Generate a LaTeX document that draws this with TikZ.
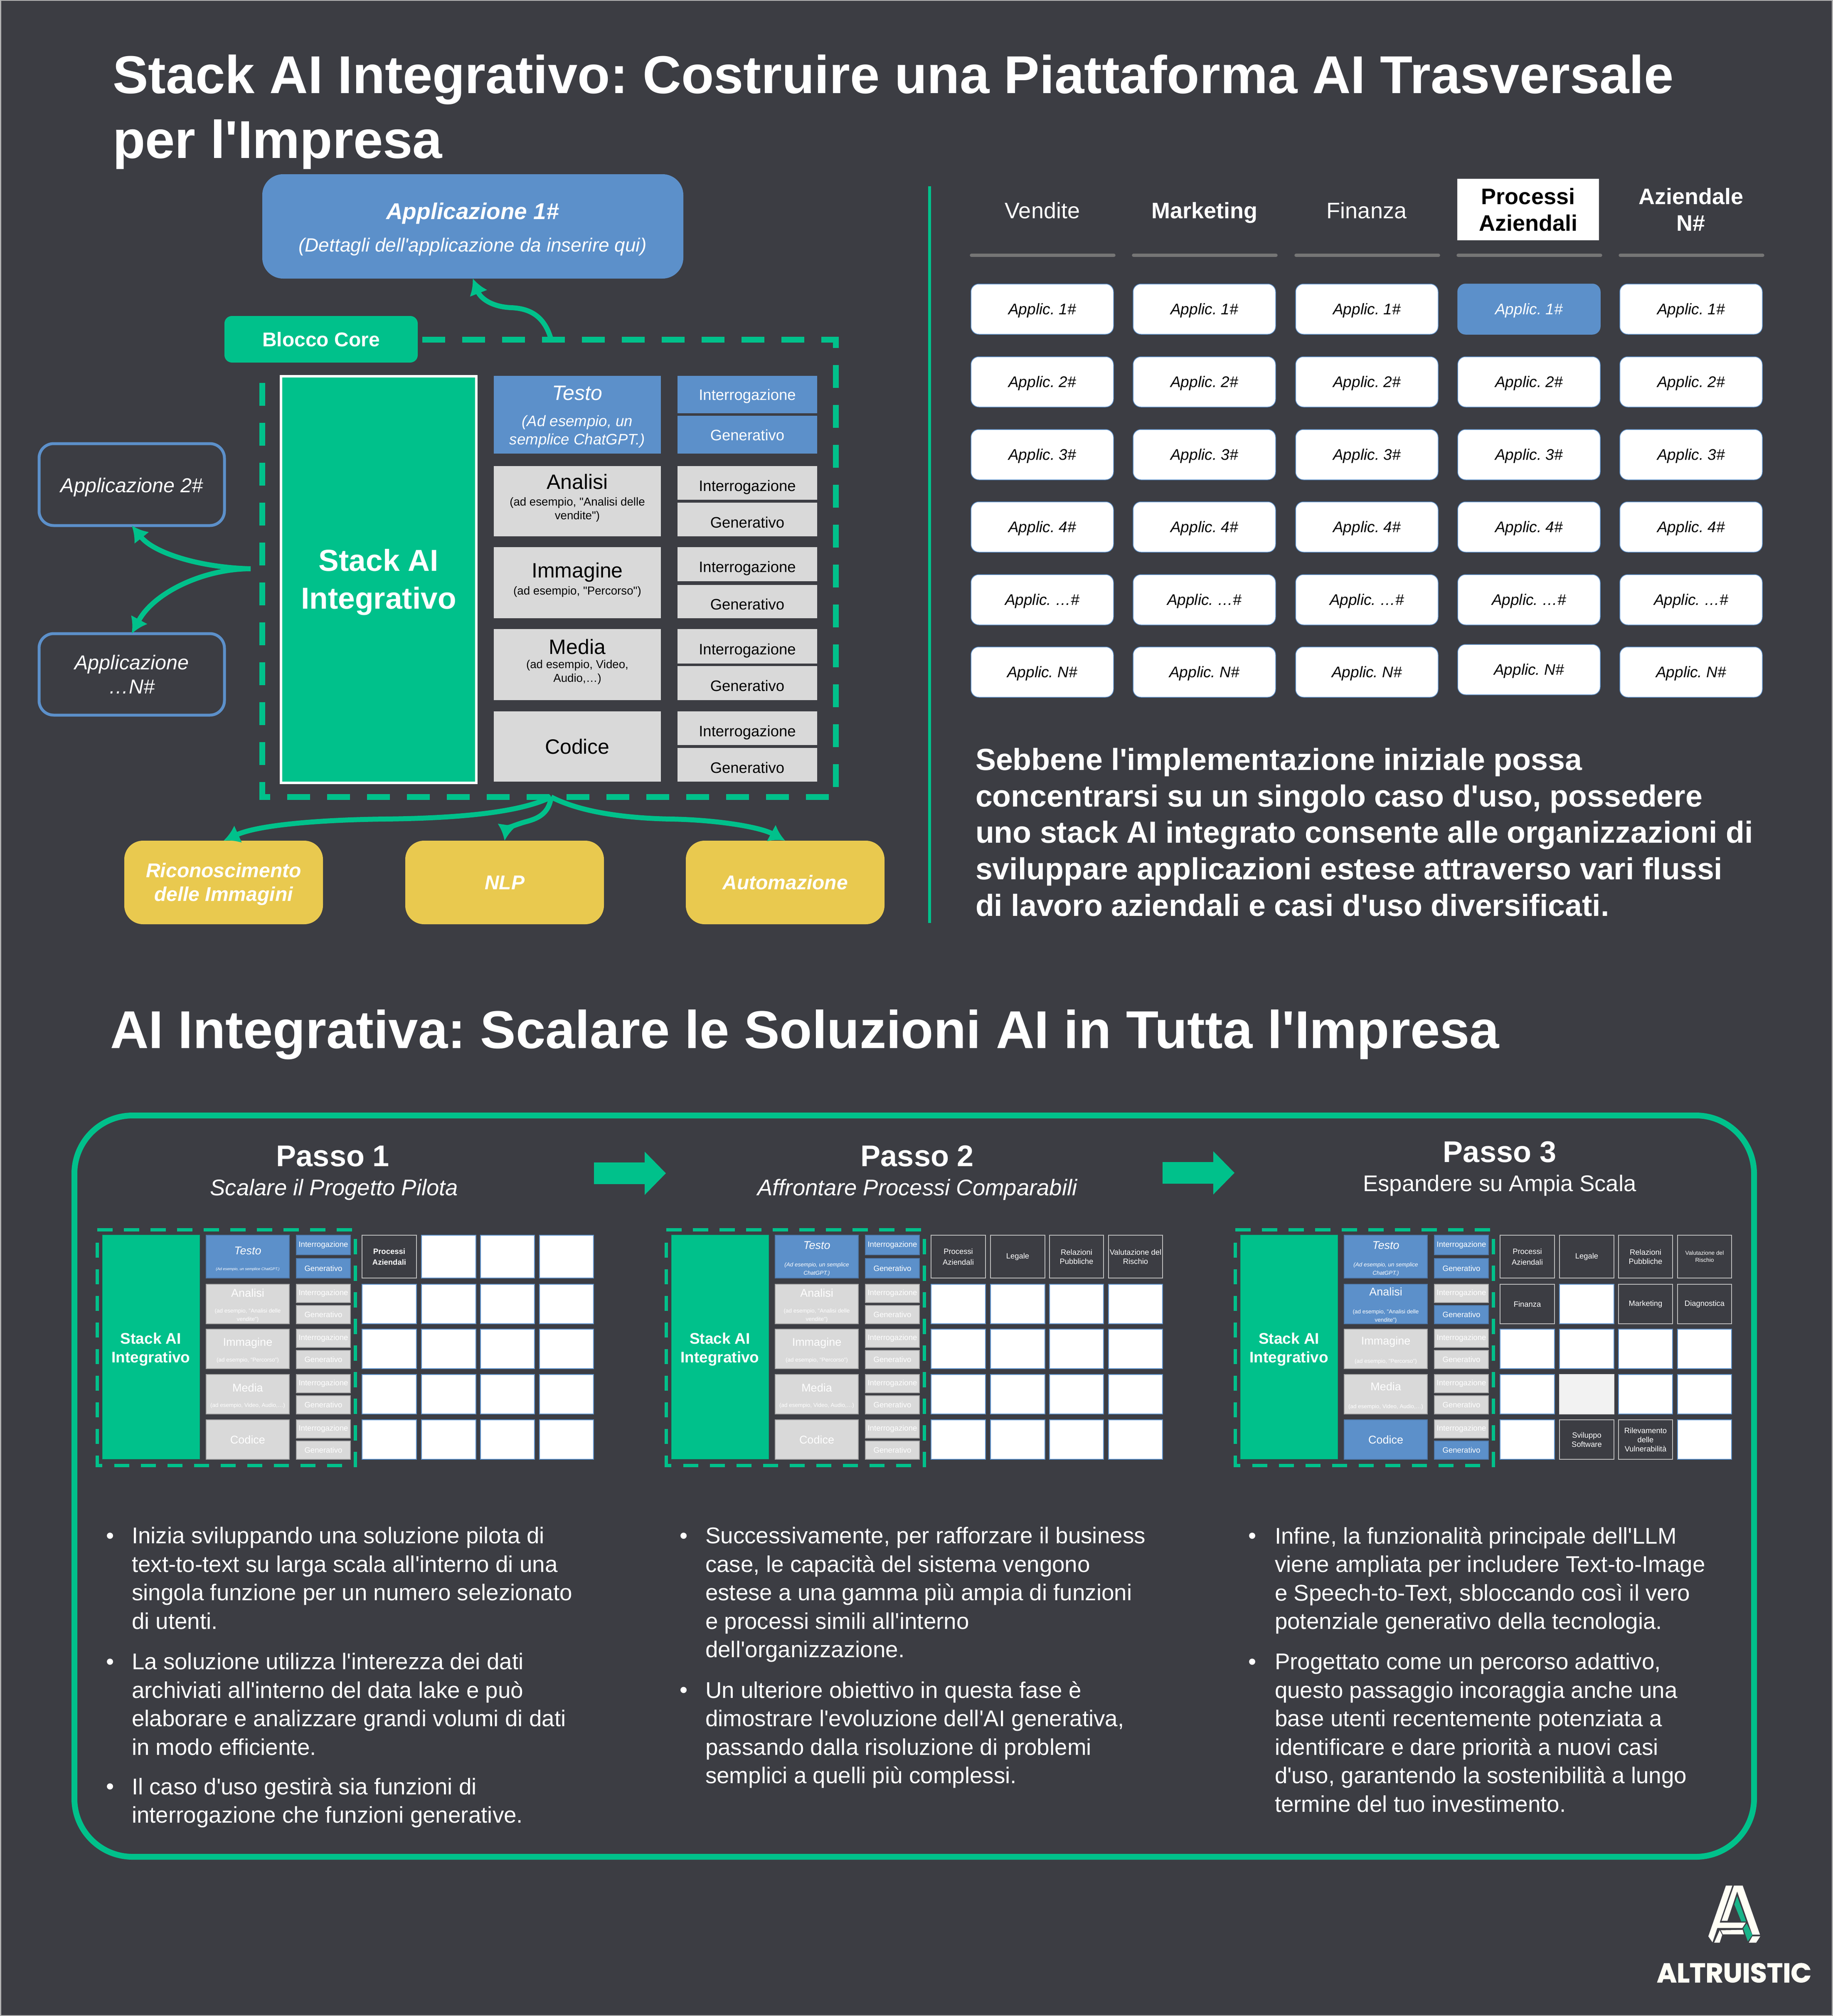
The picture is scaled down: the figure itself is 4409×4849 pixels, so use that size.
\documentclass[tikz,border=0pt]{standalone}
\usepackage{fontspec}
\setmainfont{Liberation Sans}[Ligatures=TeXOff]
\newfontfamily\logofont{Poppins}[BoldFeatures={FakeBold=1.5}]
\usetikzlibrary{arrows.meta}
\AtBeginDocument{\frenchspacing}
\definecolor{bgc}{HTML}{3C3D43}
\definecolor{grn}{HTML}{00C18B}
\definecolor{blu}{HTML}{5C90CA}
\definecolor{ylw}{HTML}{E9C94F}
\definecolor{gry}{HTML}{D9D9D9}
\definecolor{rulec}{HTML}{757575}
\newcommand\F[2]{\fontsize{#1}{#2}\selectfont}
\newcommand\mybox[7]{\pgfmathsetmacro\bxw{#4-#2}\pgfmathsetmacro\bxh{#5-#3}\pgfmathsetmacro\bxx{(#2+#4)/2}\pgfmathsetmacro\bxy{(#3+#5)/2}\node[#6,minimum width=\bxw pt,minimum height=\bxh pt] (#1) at (\bxx,\bxy) {#7};}
\newcommand\mylab[5]{\node[lab,#4] (#1) at (#2,#3) {#5};}
\tikzset{
 lab/.style={inner sep=0pt,outer sep=0pt,align=center,text=white},
 boxb/.style={rectangle,inner sep=0pt,outer sep=0pt,align=center},
 flow/.style={draw=grn,line width=12pt,-{Latex[length=38pt,width=46pt]}},
 dbig/.style={draw=grn,line width=14pt,dash pattern=on 55pt off 41pt},
 dmin/.style={draw=grn,line width=8.5pt,dash pattern=on 36.5pt off 27.5pt},
 stackbig/.style={boxb,fill=grn,draw=white,line width=6pt},
 catblue/.style={boxb,fill=blu},
 catgray/.style={boxb,fill=gry},
 igblue/.style={boxb,fill=blu,text=white,font={\F{36.5}{44}},text height=35pt,text depth=8pt},
 iggray/.style={boxb,fill=gry,text=black,font={\F{36.5}{44}},text height=47pt,text depth=8pt},
 blk/.style={text=black},
 outl/.style={boxb,draw=blu,line width=7pt,rounded corners=35pt,text=white,font={\F{48.5}{58}\itshape}},
 yel/.style={boxb,fill=ylw,rounded corners=45pt,text=white,font={\F{48}{57}\bfseries\itshape}},
 appc/.style={boxb,fill=white,draw=blu,line width=1.5pt,rounded corners=19pt,text=black,font={\F{37}{44}\itshape},text height=33pt,text depth=8pt},
 appb/.style={boxb,fill=blu,draw=blu,line width=1.5pt,rounded corners=19pt,text=white,font={\F{37}{44}\itshape},text height=33pt,text depth=8pt},
 hd/.style={lab,font={\F{54}{64}}},
 mcb/.style={boxb,fill=blu,draw=blu!85!black,line width=1.5pt},
 mcg/.style={boxb,fill=gry,draw=black!35,line width=1.5pt},
 mstack/.style={boxb,fill=grn,draw=grn!85!black,line width=1pt},
 mstl/.style={lab,font={\F{37}{45}\bfseries}},
 mib/.style={boxb,fill=blu,draw=blu!85!black,line width=1.5pt,text=white,font={\F{18.6}{22}}},
 mig/.style={boxb,fill=gry,draw=black!35,line width=1.5pt,text=white,font={\F{18.6}{22}}},
 mwh/.style={boxb,fill=white,draw=blu,line width=1.5pt},
 mlt/.style={boxb,fill=black!5,draw=black!10,line width=1.5pt},
 mdk/.style={boxb,fill=bgc,draw=black!25,line width=2.5pt,text=white,font={\F{18.4}{22}}},
 mt/.style={lab,font={\F{27}{32}}},
 ms/.style={lab,font={\F{13.5}{20}}},
 pth/.style={lab,font={\F{72}{80}\bfseries}},
 psu/.style={lab,font={\F{54.5}{64}\itshape}},
 arw/.style={fill=grn,draw=none},
 bul/.style={lab,anchor=north west,font={\F{54.8}{68.5}},align=left},
 tit/.style={lab,anchor=base west,font={\F{128.25}{155}\bfseries}},
}
\newcommand\minidash{\draw[dmin] (234,2958)--(855,2958);\draw[dmin] (855,2980)--(855,3529);\draw[dmin] (823,3525)--(272,3525);\draw[dmin] (246,3525)--(234,3525)--(234,2986);}
\newcommand\miniig[7]{\mybox{#1i}{713}{#2}{843}{#4}{#6}{Interrogazione}\mybox{#1g}{713}{#5}{843}{#3}{#7}{Generativo}}
\newcommand\minicat[4]{\mybox{#1}{496}{#2}{696}{#3}{#4}{}}
\newcommand\gcell[5]{\pgfmathsetmacro\gca{{871,1014,1156,1298}[#2]}\pgfmathsetmacro\gcb{{1002,1145,1286,1428}[#2]}\pgfmathsetmacro\gcc{{2971,3089,3197,3306,3415}[#3]}\pgfmathsetmacro\gcd{{3074,3184,3292,3401,3510}[#3]}\mybox{#1}{\gca}{\gcc}{\gcb}{\gcd}{#4}{#5}}
\begin{document}
\begin{tikzpicture}[x=1pt,y=-1pt]
\useasboundingbox (0,0) rectangle (4409,4849);
\fill[bgc] (0,0) rectangle (4409,4849);
\draw[black!30,line width=3pt] (1,1) rectangle (4408,4848);
% titles
\mylab{t1}{271}{225}{tit}{Stack AI Integrativo: Costruire una Piattaforma AI Trasversale}
\mylab{t2}{271}{380}{tit}{per l'Impresa}
\mylab{t3}{265}{2521}{tit}{AI Integrativa: Scalare le Soluzioni AI in Tutta l'Impresa}
% main stack
\mybox{app1}{631}{419}{1644}{670}{boxb,fill=blu,rounded corners=50pt}{}
\mylab{app1a}{1137}{513}{font={\F{55}{64}\bfseries\itshape}}{Applicazione 1\#}
\mylab{app1b}{1137}{594}{font={\F{46}{54}\itshape}}{(Dettagli dell'applicazione da inserire qui)}
\coordinate (ctop) at (1326,817);
\coordinate (cbot) at (1326,1917);
\coordinate (cleft) at (603,1368);
\draw[dbig] (1016,817)--(2011,817)--(2011,1917)--(631,1917)--(631,905);
\mybox{core}{540}{760}{1005}{872}{boxb,fill=grn,rounded corners=18pt,text=white,font={\F{48}{56}\bfseries}}{Blocco Core}
\mybox{stack}{676}{905}{1146}{1883}{stackbig}{}
\mylab{stackl}{911}{1400}{font={\F{73}{91}\bfseries}}{Stack AI\\Integrativo}
\mybox{ct}{1188}{904}{1590}{1091}{catblue}{}
\mybox{ca}{1188}{1121}{1590}{1290}{catgray}{}
\mybox{ci}{1188}{1316}{1590}{1487}{catgray}{}
\mybox{cm}{1188}{1513}{1590}{1684}{catgray}{}
\mybox{cc}{1188}{1711}{1590}{1880}{catgray,font={\F{50}{58}},text=black}{Codice}
\mylab{lt}{1389}{946}{font={\F{50}{58}\itshape}}{Testo}
\mylab{lts}{1389}{1038}{font={\F{36.6}{44}\itshape}}{(Ad esempio, un\\semplice ChatGPT.)}
\mylab{la}{1389}{1159}{blk,font={\F{50}{58}}}{Analisi}
\mylab{las}{1389}{1226}{blk,font={\F{27.7}{33}}}{(ad esempio, "Analisi delle\\vendite")}
\mylab{li}{1389}{1377}{blk,font={\F{50}{58}}}{Immagine}
\mylab{lis}{1389}{1423}{blk,font={\F{27.7}{33}}}{(ad esempio, "Percorso")}
\mylab{lm}{1389}{1556}{blk,font={\F{50}{58}}}{Media}
\mylab{lms}{1389}{1617}{blk,font={\F{27.7}{33}}}{(ad esempio, Video,\\Audio,…)}
\mybox{i1}{1630}{904}{1966}{994}{igblue}{Interrogazione}
\mybox{g1}{1630}{1000}{1966}{1091}{igblue}{Generativo}
\mybox{i2}{1630}{1121}{1966}{1202}{iggray}{Interrogazione}
\mybox{g2}{1630}{1209}{1966}{1290}{iggray}{Generativo}
\mybox{i3}{1630}{1316}{1966}{1398}{iggray}{Interrogazione}
\mybox{g3}{1630}{1407}{1966}{1487}{iggray}{Generativo}
\mybox{i4}{1630}{1513}{1966}{1596}{iggray}{Interrogazione}
\mybox{g4}{1630}{1602}{1966}{1684}{iggray}{Generativo}
\mybox{i5}{1630}{1711}{1966}{1792}{iggray}{Interrogazione}
\mybox{g5}{1630}{1799}{1966}{1880}{iggray}{Generativo}
\mybox{app2}{94}{1067}{540}{1264}{outl,text height=47pt,text depth=10pt}{Applicazione 2\#}
\mybox{appN}{94}{1524}{540}{1720}{outl}{Applicazione\\…N\#}
\mybox{y1}{299}{2022}{777}{2223}{yel}{}
\mylab{y1l}{538}{2127}{font={\F{48}{57}\bfseries\itshape}}{Riconoscimento\\delle Immagini}
\mybox{y2}{975}{2022}{1453}{2223}{yel}{NLP}
\mybox{y3}{1650}{2022}{2128}{2223}{yel}{Automazione}
\draw[flow] (ctop) .. controls (1310,760) and (1275,742) .. (1230,740) .. controls (1180,738) and (1155,715) .. (app1.south);
\draw[flow] (cleft) .. controls (480,1365) and (370,1330) .. (app2.south);
\draw[flow] (cleft) .. controls (490,1368) and (370,1425) .. (appN.north);
\draw[flow] (cbot) .. controls (1250,1955) and (1100,1968) .. (926,1970) .. controls (760,1972) and (620,1985) .. (y1.north);
\draw[flow] (cbot) .. controls (1400,1955) and (1510,1968) .. (1613,1970) .. controls (1730,1972) and (1830,1990) .. (y3.north);
\draw[flow] (cbot) .. controls (1320,1960) and (1290,1970) .. (1263,1977) .. controls (1235,1985) and (1218,1995) .. (y2.north);
% divider
\coordinate (da) at (2236,448);
\coordinate (db) at (2236,2220);
\draw[grn,line width=7pt] (da)--(db);
% table headers
\mylab{h1}{2508}{525}{hd,anchor=base}{Vendite}
\mylab{h2}{2898}{525}{hd,anchor=base,font={\F{54}{64}\bfseries}}{Marketing}
\mylab{h3}{3288}{525}{hd,anchor=base}{Finanza}
\mybox{h4}{3506}{430}{3847}{578}{boxb,fill=white,text=black,font={\F{54}{64}\bfseries}}{Processi\\Aziendali}
\mylab{h5}{4068}{504}{hd,font={\F{54}{64}\bfseries}}{Aziendale\\N\#}
\foreach \hx [count=\hi] in {2337,2727,3118,3508,3898}{
 \pgfmathsetmacro\hxe{\hx+343}
 \coordinate (ra\hi) at (\hx,614);
 \coordinate (rb\hi) at (\hxe,614);
 \draw[rulec,line width=7.5pt,line cap=round] (ra\hi)--(rb\hi);
}
\foreach \cx/\cn in {2336/a,2726/b,3117/c,3897/e}{
 \pgfmathsetmacro\cxe{\cx+343}
 \foreach \ry/\rl/\ri in {683/1\#/1,858/2\#/2,1033/3\#/3,1207/4\#/4,1382/…\#/5,1556/N\#/6}{
  \pgfmathsetmacro\rye{\ry+121}
  \mybox{\cn\ri}{\cx}{\ry}{\cxe}{\rye}{appc}{Applic. \rl}
 }
}
\mybox{d1}{3507}{683}{3850}{804}{appb}{Applic. 1\#}
\foreach \ry/\rl/\ri in {858/2\#/2,1033/3\#/3,1207/4\#/4,1382/…\#/5,1550/N\#/6}{
 \pgfmathsetmacro\rye{\ry+121}
 \mybox{d\ri}{3507}{\ry}{3850}{\rye}{appc}{Applic. \rl}
}
% paragraph
\mylab{para}{2347}{1799}{anchor=north west,align=left,font={\F{73.5}{87.8}\bfseries}}{Sebbene l'implementazione iniziale possa\\concentrarsi su un singolo caso d'uso, possedere\\uno stack AI integrato consente alle organizzazioni di\\sviluppare applicazioni estese attraverso vari flussi\\di lavoro aziendali e casi d'uso diversificati.}
% frame
\draw[grn,line width=14pt,rounded corners=140pt] (179,2683) rectangle (4220,4466);
% step heads
\mylab{p1}{801}{2805}{pth,anchor=base}{Passo 1}
\mylab{p1s}{804}{2875}{psu,anchor=base}{Scalare il Progetto Pilota}
\mylab{p2}{2207}{2805}{pth,anchor=base}{Passo 2}
\mylab{p2s}{2207}{2875}{psu,anchor=base}{Affrontare Processi Comparabili}
\mylab{p3}{3608}{2795}{pth,anchor=base}{Passo 3}
\mylab{p3s}{3608}{2865}{psu,anchor=base,font={\F{54.5}{64}}}{Espandere su Ampia Scala}
\fill[arw] (1429,2796)--(1551,2796)--(1551,2770)--(1602,2822)--(1551,2874)--(1551,2848)--(1429,2848)--cycle;
\fill[arw] (2797,2795)--(2919,2795)--(2919,2769)--(2970,2821)--(2919,2873)--(2919,2847)--(2797,2847)--cycle;
% mini 1
\begin{scope}
\minidash
\mybox{As}{246}{2970}{480}{3509}{mstack}{}
\mylab{Asl}{363}{3245}{mstl}{Stack AI\\Integrativo}
\minicat{At}{2971}{3074}{mcb}\minicat{Aa}{3089}{3184}{mcg}\minicat{Ai}{3197}{3292}{mcg}\minicat{Am}{3306}{3401}{mcg}\minicat{Ac}{3415}{3510}{mcg}
\mylab{Atl}{596}{3008}{mt,font={\F{27}{32}\itshape}}{Testo}
\mylab{Ats}{596}{3053}{ms,font={\F{9.3}{12}\itshape}}{(Ad esempio, un semplice ChatGPT.)}
\mylab{Aal}{596}{3110}{mt}{Analisi}
\mylab{Aas}{596}{3164}{ms}{(ad esempio, "Analisi delle\\vendite")}
\mylab{Ail}{596}{3230}{mt}{Immagine}
\mylab{Ais}{596}{3272}{ms}{(ad esempio, "Percorso")}
\mylab{Aml}{596}{3338}{mt}{Media}
\mylab{Ams}{596}{3381}{ms}{(ad esempio, Video, Audio,…)}
\mylab{Acl}{596}{3463}{mt}{Codice}
\miniig{A1}{2971}{3074}{3018}{3027}{mib}{mib}
\miniig{A2}{3089}{3184}{3133}{3140}{mig}{mig}
\miniig{A3}{3197}{3292}{3241}{3248}{mig}{mig}
\miniig{A4}{3306}{3401}{3350}{3357}{mig}{mig}
\miniig{A5}{3415}{3510}{3459}{3466}{mig}{mig}
\gcell{Ag00}{0}{0}{mdk,font={\F{18.5}{26}\bfseries}}{Processi\\Aziendali}
\foreach \gc/\gr in {1/0,2/0,3/0,0/1,1/1,2/1,3/1,0/2,1/2,2/2,3/2,0/3,1/3,2/3,3/3,0/4,1/4,2/4,3/4}{\gcell{Ag\gc\gr}{\gc}{\gr}{mwh}{}}
\end{scope}
% mini 2
\begin{scope}[shift={(1369,0)}]
\minidash
\mybox{Bs}{246}{2970}{480}{3509}{mstack}{}
\mylab{Bsl}{363}{3245}{mstl}{Stack AI\\Integrativo}
\minicat{Bt}{2971}{3074}{mcb}\minicat{Ba}{3089}{3184}{mcg}\minicat{Bi}{3197}{3292}{mcg}\minicat{Bm}{3306}{3401}{mcg}\minicat{Bc}{3415}{3510}{mcg}
\mylab{Btl}{596}{2995}{mt,font={\F{27}{32}\itshape}}{Testo}
\mylab{Bts}{596}{3053}{ms,font={\F{13.5}{20}\itshape}}{(Ad esempio, un semplice\\ChatGPT.)}
\mylab{Bal}{596}{3110}{mt}{Analisi}
\mylab{Bas}{596}{3164}{ms}{(ad esempio, "Analisi delle\\vendite")}
\mylab{Bil}{596}{3230}{mt}{Immagine}
\mylab{Bis}{596}{3272}{ms}{(ad esempio, "Percorso")}
\mylab{Bml}{596}{3338}{mt}{Media}
\mylab{Bms}{596}{3381}{ms}{(ad esempio, Video, Audio,…)}
\mylab{Bcl}{596}{3463}{mt}{Codice}
\miniig{B1}{2971}{3074}{3018}{3027}{mib}{mib}
\miniig{B2}{3089}{3184}{3133}{3140}{mig}{mig}
\miniig{B3}{3197}{3292}{3241}{3248}{mig}{mig}
\miniig{B4}{3306}{3401}{3350}{3357}{mig}{mig}
\miniig{B5}{3415}{3510}{3459}{3466}{mig}{mig}
\gcell{Bg00}{0}{0}{mdk,font={\F{18.4}{26}}}{Processi\\Aziendali}
\gcell{Bg10}{1}{0}{mdk}{Legale}
\gcell{Bg20}{2}{0}{mdk}{Relazioni\\Pubbliche}
\gcell{Bg30}{3}{0}{mdk}{Valutazione del\\Rischio}
\foreach \gc/\gr in {0/1,1/1,2/1,3/1,0/2,1/2,2/2,3/2,0/3,1/3,2/3,3/3,0/4,1/4,2/4,3/4}{\gcell{Bg\gc\gr}{\gc}{\gr}{mwh}{}}
\end{scope}
% mini 3
\begin{scope}[shift={(2738,0)}]
\minidash
\mybox{Cs}{246}{2970}{480}{3509}{mstack}{}
\mylab{Csl}{363}{3245}{mstl}{Stack AI\\Integrativo}
\minicat{Ct}{2971}{3074}{mcb}\minicat{Ca}{3089}{3184}{mcb}\minicat{Ci}{3197}{3292}{mcg}\minicat{Cm}{3306}{3401}{mcg}\minicat{Cc}{3415}{3510}{mcb}
\mylab{Ctl}{596}{2995}{mt,font={\F{27}{32}\itshape}}{Testo}
\mylab{Cts}{596}{3053}{ms,font={\F{13.5}{20}\itshape}}{(Ad esempio, un semplice\\ChatGPT.)}
\mylab{Cal}{596}{3107}{mt}{Analisi}
\mylab{Cas}{596}{3166}{ms}{(ad esempio, "Analisi delle\\vendite")}
\mylab{Cil}{596}{3227}{mt}{Immagine}
\mylab{Cis}{596}{3275}{ms}{(ad esempio, "Percorso")}
\mylab{Cml}{596}{3335}{mt}{Media}
\mylab{Cms}{596}{3384}{ms}{(ad esempio, Video, Audio,…)}
\mylab{Ccl}{596}{3463}{mt}{Codice}
\miniig{C1}{2971}{3074}{3018}{3027}{mib}{mib}
\miniig{C2}{3089}{3184}{3133}{3140}{mig}{mib}
\miniig{C3}{3197}{3292}{3241}{3248}{mig}{mig}
\miniig{C4}{3306}{3401}{3350}{3357}{mig}{mig}
\miniig{C5}{3415}{3510}{3459}{3466}{mig}{mib}
\gcell{Cg00}{0}{0}{mdk,font={\F{18.4}{26}}}{Processi\\Aziendali}
\gcell{Cg10}{1}{0}{mdk}{Legale}
\gcell{Cg20}{2}{0}{mdk}{Relazioni\\Pubbliche}
\gcell{Cg30}{3}{0}{mdk,font={\F{13.7}{17}}}{Valutazione del\\Rischio}
\gcell{Cg01}{0}{1}{mdk}{Finanza}
\gcell{Cg11}{1}{1}{mwh}{}
\gcell{Cg21}{2}{1}{mdk}{Marketing}
\gcell{Cg31}{3}{1}{mdk}{Diagnostica}
\gcell{Cg13}{1}{3}{mlt}{}
\gcell{Cg14}{1}{4}{mdk}{Sviluppo\\Software}
\gcell{Cg24}{2}{4}{mdk}{Rilevamento\\delle\\Vulnerabilità}
\foreach \gc/\gr in {0/2,1/2,2/2,3/2,0/3,2/3,3/3,0/4,3/4}{\gcell{Cg\gc\gr}{\gc}{\gr}{mwh}{}}
\end{scope}
% bullets
\mylab{b11}{317}{3673}{bul}{Inizia sviluppando una soluzione pilota di\\text-to-text su larga scala all'interno di una\\singola funzione per un numero selezionato\\di utenti.}
\mylab{b12}{317}{3976}{bul}{La soluzione utilizza l'interezza dei dati\\archiviati all'interno del data lake e può\\elaborare e analizzare grandi volumi di dati\\in modo efficiente.}
\mylab{b13}{317}{4276}{bul}{Il caso d'uso gestirà sia funzioni di\\interrogazione che funzioni generative.}
\mylab{b21}{1697}{3673}{bul}{Successivamente, per rafforzare il business\\case, le capacità del sistema vengono\\estese a una gamma più ampia di funzioni\\e processi simili all'interno\\dell'organizzazione.}
\mylab{b22}{1697}{4044}{bul}{Un ulteriore obiettivo in questa fase è\\dimostrare l'evoluzione dell'AI generativa,\\passando dalla risoluzione di problemi\\semplici a quelli più complessi.}
\mylab{b31}{3067}{3673}{bul}{Infine, la funzionalità principale dell'LLM\\viene ampliata per includere Text-to-Image\\e Speech-to-Text, sbloccando così il vero\\potenziale generativo della tecnologia.}
\mylab{b32}{3067}{3976}{bul}{Progettato come un percorso adattivo,\\questo passaggio incoraggia anche una\\base utenti recentemente potenziata a\\identificare e dare priorità a nuovi casi\\d'uso, garantendo la sostenibilità a lungo\\termine del tuo investimento.}
\foreach \bn/\bx/\by in {a/255/3673,b/255/3976,c/255/4276,d/1635/3673,e/1635/4044,f/3003/3673,g/3003/3976}{
 \mylab{bu\bn}{\bx}{\by}{bul}{\vphantom{l}•}
}
% logo
\begin{scope}[shift={(3900,4450)},x=0.33333pt,y=-0.33333pt]
\fill[white!96!yellow] (757,256)--(803,256)--(712,523)--(900,523)--(875,562)--(695,562)--(660,665)--(630,622)--cycle;
\fill[white!96!yellow] (712,578)--(730,612)--(712,668)--(672,668)--cycle;
\fill[white!96!yellow] (720,578)--(878,575)--(887,608)--(735,608)--cycle;
\fill[white!96!yellow] (815,256)--(878,256)--(1003,610)--(948,610)--(838,298)--(768,510)--(726,510)--cycle;
\fill[white!96!yellow] (948,622)--(1005,622)--(975,668)--(922,668)--cycle;
\fill[grn!80!gray] (838,332)--(903,515)--(868,515)--(818,392)--cycle;
\fill[grn!80!gray] (907,530)--(948,612)--(915,658)--(882,565)--cycle;
\end{scope}
\mylab{logo}{4172}{4768}{anchor=base,text=white!96!yellow,font={\logofont\F{65}{70}\bfseries}}{ALTRUISTIC}
\end{tikzpicture}
\end{document}
